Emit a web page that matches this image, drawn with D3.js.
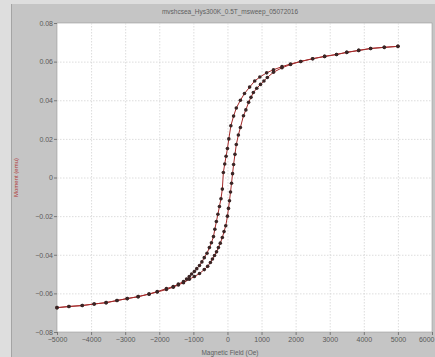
<!DOCTYPE html>
<html>
<head>
<meta charset="utf-8">
<script src="https://cdn.jsdelivr.net/npm/d3@7"></script>
<style>
  html, body { margin: 0; padding: 0; background: #d9d9d9; }
  svg { display: block; font-family: "Liberation Sans", Arial, sans-serif; }
</style>
</head>
<body>
<svg id="chart" width="435" height="357"></svg>
<script>
// Hysteresis loop at 300 K: descending sweep (+5000 -> -5000 Oe)
const fieldDown = [5000, 4600, 4200, 3850, 3500, 3200, 2850, 2500, 2150, 1850, 1600, 1350, 1150, 950, 800, 650, 500, 380, 260, 180, 100, 40, 0, -40, -80, -120, -150, -190, -235, -280, -325, -370, -410, -470, -530, -600, -680, -750, -820, -900, -970, -1050, -1120, -1200, -1290, -1440, -1590, -1790, -2060, -2300, -2620, -2940, -3240, -3560, -3910, -4260, -4650, -5000];
const momentDown = [0.0679, 0.0674, 0.0668, 0.0658, 0.0648, 0.0637, 0.0627, 0.0615, 0.0601, 0.0588, 0.0574, 0.0558, 0.0542, 0.0520, 0.0500, 0.0468, 0.0435, 0.0400, 0.0360, 0.0318, 0.0268, 0.0200, 0.0150, 0.0110, 0.0070, 0.0026, -0.0060, -0.0110, -0.0150, -0.0190, -0.0228, -0.0268, -0.0306, -0.0338, -0.0363, -0.0392, -0.0415, -0.0437, -0.0456, -0.0472, -0.0487, -0.0500, -0.0513, -0.0526, -0.0539, -0.0552, -0.0565, -0.0575, -0.0591, -0.0603, -0.0617, -0.0627, -0.0637, -0.0648, -0.0655, -0.0663, -0.0668, -0.0674];

// Ascending sweep (-5000 -> +5000 Oe)
const fieldUp = [-5000, -4650, -4260, -3910, -3560, -3240, -2940, -2620, -2300, -2060, -1790, -1590, -1440, -1290, -1120, -970, -820, -680, -580, -500, -440, -380, -320, -265, -210, -150, -100, -50, 0, 30, 60, 90, 120, 150, 180, 220, 260, 320, 380, 470, 540, 620, 690, 760, 860, 970, 1070, 1170, 1350, 1600, 1850, 2150, 2500, 2850, 3200, 3500, 3850, 4200, 4600, 5000];
const momentUp = [-0.0674, -0.0668, -0.0663, -0.0655, -0.0648, -0.0637, -0.0627, -0.0617, -0.0604, -0.0593, -0.0580, -0.0568, -0.0556, -0.0545, -0.0527, -0.0513, -0.0497, -0.0477, -0.0460, -0.0440, -0.0422, -0.0404, -0.0385, -0.0363, -0.0340, -0.0311, -0.0280, -0.0250, -0.0200, -0.0160, -0.0120, -0.0075, -0.0030, 0.0020, 0.0067, 0.0120, 0.0171, 0.0220, 0.0259, 0.0320, 0.0350, 0.0389, 0.0415, 0.0440, 0.0462, 0.0482, 0.0500, 0.0518, 0.0545, 0.0568, 0.0585, 0.0601, 0.0615, 0.0627, 0.0637, 0.0648, 0.0658, 0.0668, 0.0674, 0.0679];

const xTicks = [-5000, -4000, -3000, -2000, -1000, 0, 1000, 2000, 3000, 4000, 5000, 6000];
const yTicks = [-0.08, -0.06, -0.04, -0.02, 0, 0.02, 0.04, 0.06, 0.08];

const titleText = "mvshcsea_Hys300K_0.5T_msweep_05072016";
const xLabel = "Magnetic Field (Oe)";
const yLabel = "Moment (emu)";

const svg = d3.select("#chart");
const W = 435, H = 357;
const plot = { left: 57, top: 23, right: 432, bottom: 332 };

// Window chrome: light outer strip and the grey panel
svg.append("rect").attr("x", 0).attr("y", 0).attr("width", W).attr("height", H).attr("fill", "#dedede");
svg.append("rect").attr("x", 11).attr("y", 4).attr("width", W - 11).attr("height", H - 4).attr("fill", "#c5c5c5");
svg.append("line").attr("x1", 11.5).attr("x2", 11.5).attr("y1", 4).attr("y2", H).attr("stroke", "#a4a4a4");

const x = d3.scaleLinear().domain([-5000, 6000]).range([plot.left, plot.right]);
const y = d3.scaleLinear().domain([-0.08, 0.08]).range([plot.bottom, plot.top]);

// Plot area
svg.append("rect")
  .attr("x", plot.left).attr("y", plot.top)
  .attr("width", plot.right - plot.left).attr("height", plot.bottom - plot.top)
  .attr("fill", "#ffffff").attr("stroke", "#9a9a9a").attr("stroke-width", 0.6);

// Dotted grid
const grid = svg.append("g").attr("stroke", "#d4d4d4").attr("stroke-width", 0.8).attr("stroke-dasharray", "1.5,1.5");
grid.selectAll("line.v").data(xTicks.slice(1, -1)).join("line")
  .attr("x1", d => x(d) + 0.5).attr("x2", d => x(d) + 0.5)
  .attr("y1", plot.top).attr("y2", plot.bottom);
grid.selectAll("line.h").data(yTicks.slice(1, -1)).join("line")
  .attr("x1", plot.left).attr("x2", plot.right)
  .attr("y1", d => y(d) + 0.5).attr("y2", d => y(d) + 0.5);

// Axes
const fmtY = d => d === 0 ? "0" : d3.format(".2f")(d);
const xAxis = d3.axisBottom(x).tickValues(xTicks).tickSize(3).tickPadding(2).tickFormat(d3.format("d"));
const yAxis = d3.axisLeft(y).tickValues(yTicks).tickSize(3).tickPadding(1).tickFormat(fmtY);

const gx = svg.append("g").attr("transform", `translate(0,${plot.bottom})`).call(xAxis);
const gy = svg.append("g").attr("transform", `translate(${plot.left},0)`).call(yAxis);
[gx, gy].forEach(g => {
  g.select(".domain").remove();
  g.selectAll(".tick line").attr("stroke", "#777");
  g.selectAll(".tick text").attr("fill", "#5a5a5a").style("font-size", "7px");
});
// Keep the last field label inside the window edge
gx.selectAll(".tick text").filter(d => d === xTicks[xTicks.length - 1])
  .attr("text-anchor", "end").attr("dx", 2);

// Title and axis labels
svg.append("text").attr("x", 230).attr("y", 14).attr("text-anchor", "middle")
  .attr("fill", "#5e5e5e").style("font-size", "6.5px").text(titleText);
svg.append("text").attr("x", 230).attr("y", 355).attr("text-anchor", "middle")
  .attr("fill", "#5e5e5e").style("font-size", "6.5px").text(xLabel);
svg.append("text").attr("transform", `translate(18,${y(0)}) rotate(-90)`).attr("text-anchor", "middle")
  .attr("fill", "#b03838").style("font-size", "6px").text(yLabel);

// Curves with markers
const line = d3.line().x(d => x(d[0])).y(d => y(d[1]));
const branches = [
  d3.zip(fieldDown, momentDown),
  d3.zip(fieldUp, momentUp)
];
const curves = svg.append("g");
branches.forEach(pts => {
  curves.append("path").datum(pts).attr("d", line)
    .attr("fill", "none").attr("stroke", "#a42a2a").attr("stroke-width", 1);
});
branches.forEach(pts => {
  curves.append("g").selectAll("circle").data(pts).join("circle")
    .attr("cx", d => x(d[0])).attr("cy", d => y(d[1])).attr("r", 1.8)
    .attr("fill", "#3a2424");
});
</script>
</body>
</html>
